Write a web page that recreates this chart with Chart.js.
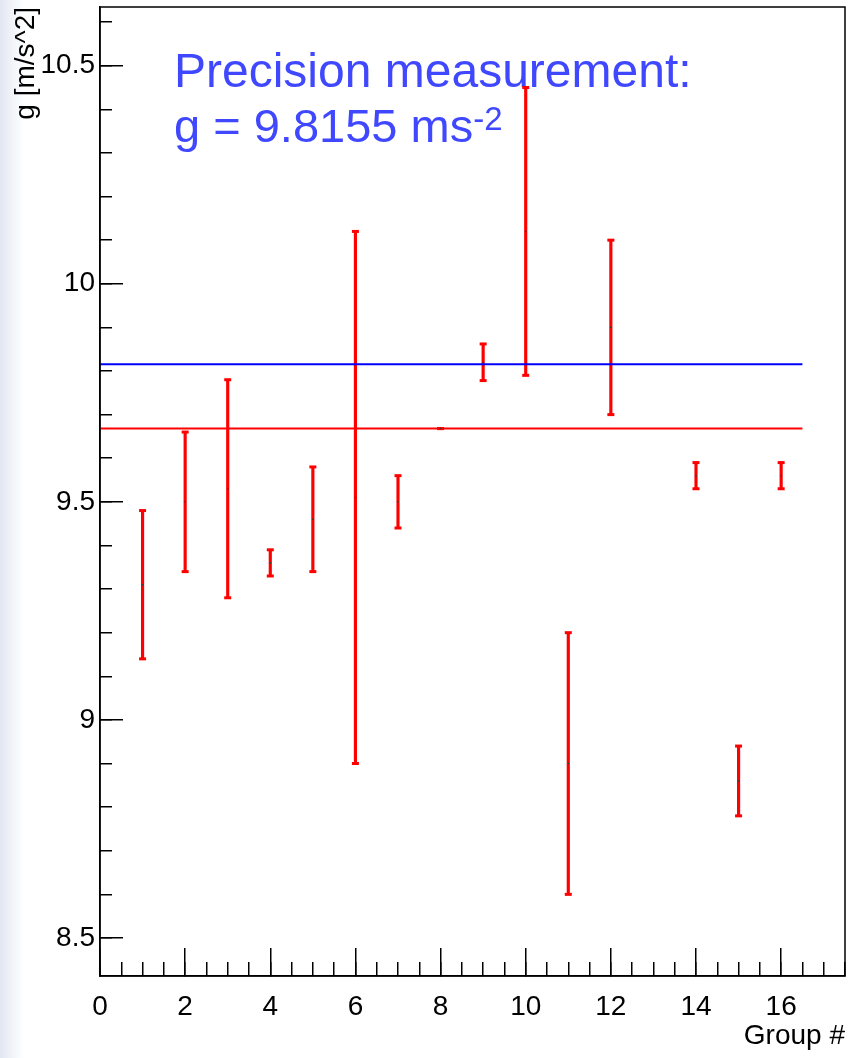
<!DOCTYPE html>
<html><head><meta charset="utf-8">
<script src="https://cdn.jsdelivr.net/npm/chart.js@4"></script>
<style>
html,body{margin:0;padding:0;}
body{width:852px;height:1058px;overflow:hidden;background:linear-gradient(to right,#e2e6f1 0px,#eceff7 8px,#ffffff 24px);}
canvas{display:block;}
</style></head><body>
<canvas id="c" width="852" height="1058"></canvas>
<script>
// ---- data ----
const groups  = [1, 2, 3, 4, 5, 6, 7, 8, 9, 10, 11, 12, 14, 15, 16];
const gValues = [9.31, 9.50, 9.53, 9.36, 9.46, 9.51, 9.50, 9.668, 9.82, 10.12, 8.90, 9.90, 9.56, 8.86, 9.56];
const gErrors = [0.17, 0.16, 0.25, 0.03, 0.12, 0.61, 0.06, 0.0, 0.042, 0.33, 0.30, 0.20, 0.03, 0.08, 0.03];
const precisionG = 9.8155;
const meanG = 9.668;
const lineSpan = [0, 16.5];
const xRange = [0, 17.5];
const yRange = [8.4128, 10.6346];
const xMajorStep = 2, xMinorStep = 0.5;
const yMajorStep = 0.5, yMinorStep = 0.1;
const xTitle = 'Group #';
const yTitle = 'g [m/s^2]';
const noteLine1 = 'Precision measurement:';
const noteLine2 = 'g = 9.8155 ms';
const noteSup = '-2';

const FAM = '"Liberation Sans", Arial, Helvetica, sans-serif';
const lows  = groups.map((g, i) => gValues[i] - gErrors[i]);
const highs = groups.map((g, i) => gValues[i] + gErrors[i]);

const overlay = {
  id: 'overlay',
  beforeDatasetsDraw(chart) {
    const {ctx, chartArea: a} = chart;
    ctx.save();
    ctx.fillStyle = '#4048ff';
    ctx.textAlign = 'left';
    ctx.textBaseline = 'alphabetic';
    const x0 = a.left + 74;
    ctx.font = '48px ' + FAM;
    ctx.fillText(noteLine1, x0, a.top + 80);
    ctx.font = '47px ' + FAM;
    ctx.fillText(noteLine2, x0, a.top + 135);
    const w = ctx.measureText(noteLine2).width;
    ctx.font = '33px ' + FAM;
    ctx.fillText(noteSup, x0 + w, a.top + 123);
    ctx.restore();
  },
  afterDraw(chart) {
    const {ctx, chartArea: a} = chart;
    ctx.save();
    ctx.strokeStyle = '#000';
    ctx.lineWidth = 1.5;
    ctx.strokeRect(a.left, a.top, a.right - a.left, a.bottom - a.top);
    ctx.restore();
  }
};

const fmt = v => String(+Number(v).toFixed(3));
const noPad = s => { s.paddingTop = 0; s.paddingBottom = 0; s.paddingLeft = 0; s.paddingRight = 0; };

new Chart(document.getElementById('c'), {
  type: 'bar',
  data: {
    datasets: [
      { type: 'line', data: lineSpan.map(x => ({x, y: precisionG})), borderColor: '#0000ff', borderWidth: 2, pointRadius: 0, order: 0 },
      { type: 'line', data: lineSpan.map(x => ({x, y: meanG})), borderColor: '#ff0000', borderWidth: 2, pointRadius: 0, order: 0 },
      { type: 'bar', data: groups.map((g, i) => ({x: g, y: [lows[i], highs[i]]})), backgroundColor: '#ff0000', barThickness: 2.5, order: 3 },
      { type: 'scatter', data: groups.map((g, i) => ({x: g, y: lows[i]})).concat(groups.map((g, i) => ({x: g, y: highs[i]}))),
        pointStyle: 'line', pointRadius: 3.5, borderColor: '#ff0000', borderWidth: 3, order: 2 },
      { type: 'scatter', data: groups.map((g, i) => ({x: g, y: gValues[i]})), pointRadius: 0.8, backgroundColor: '#333', borderWidth: 0, order: -1 }
    ]
  },
  options: {
    responsive: false,
    devicePixelRatio: 1,
    animation: false,
    layout: { padding: { top: 7, right: 5, left: 0, bottom: 0 } },
    plugins: { legend: { display: false }, tooltip: { enabled: false } },
    scales: {
      x: {
        type: 'linear', position: 'bottom', min: xRange[0], max: xRange[1], offset: false,
        afterFit(s) { s.height = 82; noPad(s); },
        ticks: { stepSize: xMajorStep, includeBounds: false, autoSkip: false, maxRotation: 0, padding: 42, color: '#000', font: { family: FAM, size: 28 }, callback: fmt },
        grid: { offset: false, drawOnChartArea: false, drawTicks: true, tickLength: -28, color: '#000', lineWidth: 1.5 },
        border: { display: true, color: '#000', width: 1.5 },
        title: { display: true, text: xTitle, align: 'end', color: '#000', font: { family: FAM, size: 28 }, padding: { top: 0, bottom: 5 } }
      },
      xMinor: {
        type: 'linear', position: 'bottom', weight: -10, min: xRange[0], max: xRange[1], offset: false,
        afterFit(s) { s.height = 0; noPad(s); },
        ticks: { display: false, stepSize: xMinorStep, includeBounds: false, autoSkip: false },
        grid: { offset: false, drawOnChartArea: false, drawTicks: true, tickLength: -14, color: '#000', lineWidth: 1.5 },
        border: { display: false }
      },
      y: {
        type: 'linear', position: 'left', min: yRange[0], max: yRange[1],
        afterFit(s) { s.width = 100; noPad(s); },
        ticks: { stepSize: yMajorStep, includeBounds: false, autoSkip: false, padding: 28, color: '#000', font: { family: FAM, size: 28 }, callback: fmt },
        grid: { drawOnChartArea: false, drawTicks: true, tickLength: -23, color: '#000', lineWidth: 1.5 },
        border: { display: true, color: '#000', width: 1.5 },
        title: { display: true, text: yTitle, align: 'end', color: '#000', font: { family: FAM, size: 28 }, padding: { top: 9, bottom: 0 } }
      },
      yMinor: {
        type: 'linear', position: 'left', weight: -10, min: yRange[0], max: yRange[1],
        afterFit(s) { s.width = 0; noPad(s); },
        ticks: { display: false, stepSize: yMinorStep, includeBounds: false, autoSkip: false },
        grid: { drawOnChartArea: false, drawTicks: true, tickLength: -12, color: '#000', lineWidth: 1.5 },
        border: { display: false }
      }
    }
  },
  plugins: [overlay]
});
</script>
</body></html>
